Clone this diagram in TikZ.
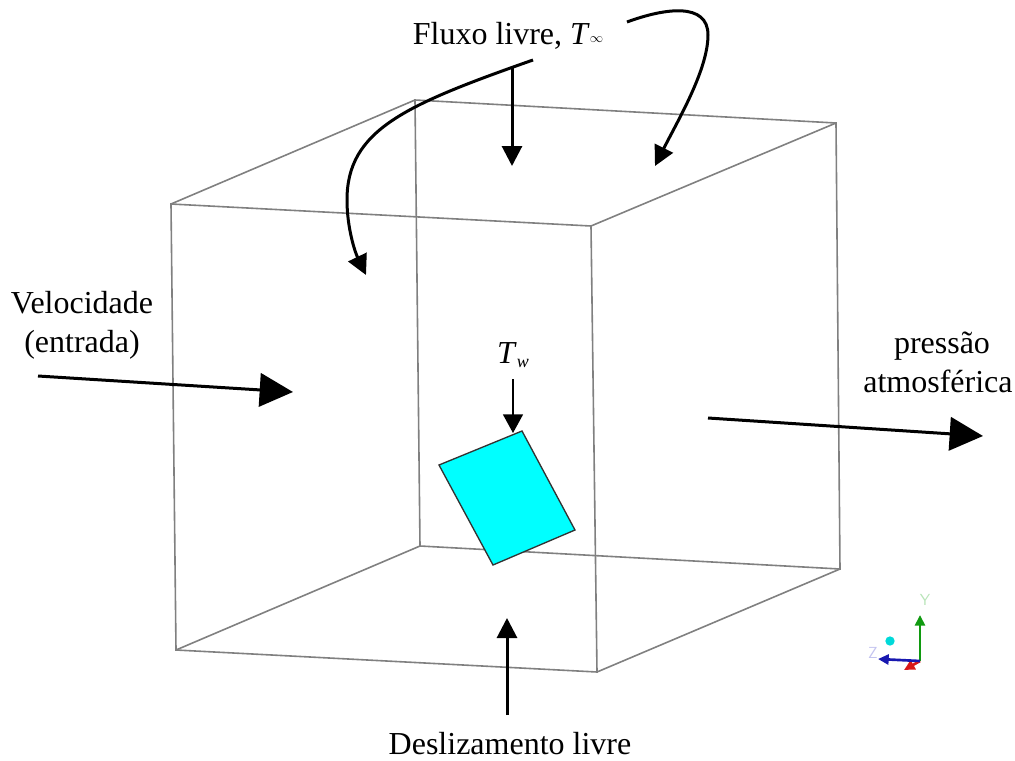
\documentclass[tikz,border=0pt]{standalone}
\usepackage{fontspec}
\setmainfont{Liberation Serif}
\usepackage{tikz}
\usetikzlibrary{arrows.meta,positioning,calc}
\definecolor{KEdge}{HTML}{808080}
\definecolor{KPlate}{HTML}{00FFFF}
\definecolor{KAxisY}{HTML}{109A10}
\definecolor{KAxisZ}{HTML}{1818B0}
\definecolor{KAxisX}{HTML}{D81818}
\definecolor{KLabelY}{HTML}{B8E4B8}
\definecolor{KLabelZ}{HTML}{C4C4F0}
\tikzset{
  edgeline/.style={draw=KEdge,line width=1.2pt},
  lbl/.style={inner sep=0pt,anchor=base,font=\fontsize{24}{28}\selectfont},
  flowarrow/.style={draw=black,line width=2.25pt,-{Triangle[length=15pt,width=15pt]}},
  bigarrow/.style={draw=black,line width=2.25pt,-{Triangle[length=25pt,width=25pt]}},
  thinarrow/.style={draw=black,line width=1.1pt,-{Triangle[length=14pt,width=15pt]}},
  axisarrow/.style={line width=2pt,-{Triangle[length=8pt,width=7.5pt]}},
  axislbl/.style={inner sep=0pt,font=\sffamily\fontsize{12}{12}\selectfont},
}
\begin{document}
\begin{tikzpicture}[x=0.75pt,y=-0.75pt]
    \useasboundingbox (0,0) rectangle (1015,761);
    % cube corners
    \coordinate (ftl) at (171,204);
    \coordinate (ftr) at (591,226);
    \coordinate (fbr) at (597,672);
    \coordinate (fbl) at (176,650);
    \coordinate (btl) at (415,100);
    \coordinate (btr) at (836,123);
    \coordinate (bbr) at (840,569);
    \coordinate (bbl) at (420,546);
    \draw[edgeline] (ftl) -- (ftr) -- (fbr) -- (fbl) -- cycle;
    \draw[edgeline] (btl) -- (btr) -- (bbr) -- (bbl) -- cycle;
    \foreach \a/\b in {ftl/btl,ftr/btr,fbr/bbr,fbl/bbl}
      \draw[edgeline] (\a) -- (\b);
    % plate
    \coordinate (pa) at (522,431);
    \coordinate (pb) at (575,530);
    \coordinate (pc) at (493,565);
    \coordinate (pd) at (439,465);
    \draw[fill=KPlate,draw=black!80,line width=1pt] (pa) -- (pb) -- (pc) -- (pd) -- cycle;
    % labels
    \node[lbl] (fluxo) at (508,44) {Fluxo livre, \textit{T}\raisebox{0.1ex}{\fontsize{10}{10}\selectfont$\infty$}};
    \node[lbl] (veloc) at (82,313) {Velocidade};
    \node[lbl] (entrada) at (82,352) {(entrada)};
    \node[lbl] (pressao) at (942,353) {pressão};
    \node[lbl] (atmos) at (938,392) {atmosférica};
    \node[lbl] (desliz) at (510,754) {Deslizamento livre};
    \node[lbl] (tw) at (513,363) {\textit{T}\raisebox{-0.3ex}{\fontsize{13.5}{14}\selectfont\textit{w}}};
    % arrows
    \coordinate (fluxoS) at (512,68);
    \coordinate (fluxoE) at (512,166);
    \coordinate (leftS) at (533,60);
    \coordinate (leftE) at (366,275);
    \coordinate (rightS) at (627,22);
    \coordinate (rightE) at (655,166);
    \draw[flowarrow] (fluxoS) -- (fluxoE);
    \draw[flowarrow] (leftS) .. controls (405,105) and (347,130) .. (347,200)
       .. controls (347,228) and (355,252) .. (leftE);
    \draw[flowarrow] (rightS) .. controls (665,8) and (708,2) .. (708,35)
       .. controls (708,70) and (677,122) .. (rightE);
    \coordinate (inS) at (38,376);
    \coordinate (inE) at (293,392);
    \coordinate (outS) at (708,418);
    \coordinate (outE) at (983,436);
    \coordinate (slipS) at (507,715);
    \coordinate (slipE) at (507,618);
    \draw[bigarrow] (inS) -- (inE);
    \draw[bigarrow] (outS) -- (outE);
    \draw[flowarrow] (slipS) -- (slipE);
    \coordinate (twS) at (513,379);
    \coordinate (twE) at (513,433);
    \draw[thinarrow] (twS) -- (twE);
    % triad
    \coordinate (orig) at (920,661);
    \coordinate (axY) at (920,615);
    \coordinate (axZ) at (878,659);
    \coordinate (axX) at (904,670);
    \draw[KAxisX,axisarrow] (orig) -- (axX);
    \draw[KAxisY,axisarrow] (orig) -- (axY);
    \draw[KAxisZ,axisarrow] (orig) -- (axZ);
    \node[circle,fill=KPlate!85!black,inner sep=0pt,minimum size=7pt] (dot) at (890,641) {};
    \node[axislbl,text=KLabelY] (ylbl) at (925,600) {Y};
    \node[axislbl,text=KLabelZ] (zlbl) at (873,653) {Z};
  \end{tikzpicture}
\end{document}
